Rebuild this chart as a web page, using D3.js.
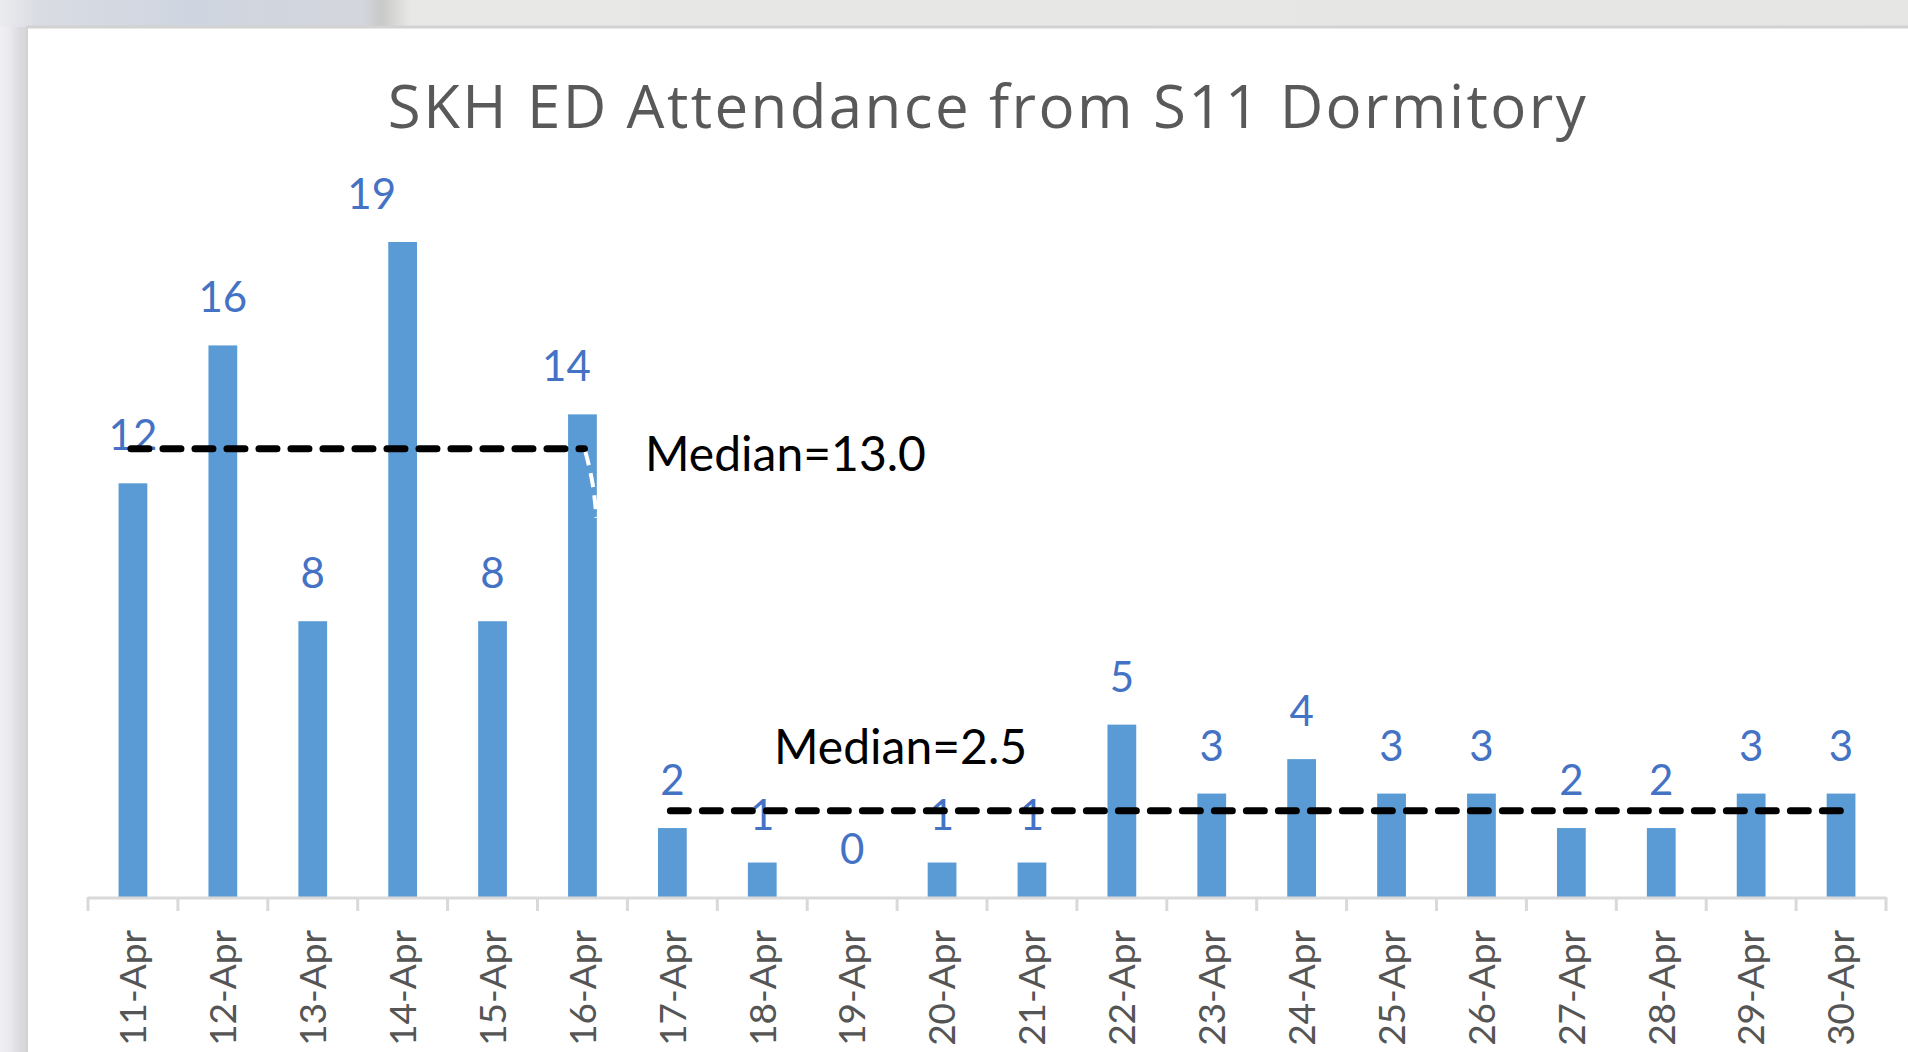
<!DOCTYPE html>
<html>
<head>
<meta charset="utf-8">
<script src="https://cdn.jsdelivr.net/npm/d3@7"></script>
<style>
  html, body { margin: 0; padding: 0; background: #e7e7e7; }
  svg { display: block; font-family: Lato, "Open Sans", sans-serif; font-variant-ligatures: none; }
</style>
</head>
<body>
<svg id="chart"></svg>
<script>
// chart data
const dates = ["11-Apr", "12-Apr", "13-Apr", "14-Apr", "15-Apr", "16-Apr", "17-Apr", "18-Apr", "19-Apr", "20-Apr",
               "21-Apr", "22-Apr", "23-Apr", "24-Apr", "25-Apr", "26-Apr", "27-Apr", "28-Apr", "29-Apr", "30-Apr"];
const attendance = [12, 16, 8, 19, 8, 14, 2, 1, 0, 1, 1, 5, 3, 4, 3, 3, 2, 2, 3, 3];
const medianValues = [13.0, 2.5];
const medianFrom = ["11-Apr", "17-Apr"];
const medianTo = ["16-Apr", "30-Apr"];
const medianLabels = ["Median=13.0", "Median=2.5"];
const chartTitle = "SKH ED Attendance from S11 Dormitory";

/**
 * Draw the whole picture
 */
function plotChart() {
    const width = 1908, height = 1052;
    const plot = { left: 88, right: 1886, base: 897 };

    const svg = d3.select("#chart")
        .attr("width", width)
        .attr("height", height);

    // window chrome behind the chart panel
    const defs = svg.append("defs");
    const topGrad = defs.append("linearGradient").attr("id", "topband");
    [[0, "#ececef"], [0.02, "#d9dce3"], [0.1, "#cfd5e0"], [0.19, "#d3d6dc"], [0.2, "#c9c9c9"], [0.215, "#e8e8e6"], [1, "#e6e6e4"]]
        .forEach(s => topGrad.append("stop").attr("offset", s[0]).attr("stop-color", s[1]));
    const leftGrad = defs.append("linearGradient").attr("id", "leftband");
    [[0, "#f0f0f3"], [0.4, "#e9e9ed"], [0.7, "#dcdce0"], [1, "#d6d6d8"]]
        .forEach(s => leftGrad.append("stop").attr("offset", s[0]).attr("stop-color", s[1]));

    svg.append("rect").attr("width", width).attr("height", height).attr("fill", "#e7e7e7");
    svg.append("rect").attr("width", width).attr("height", 27).attr("fill", "url(#topband)");
    svg.append("rect").attr("y", 27).attr("width", 27).attr("height", height - 27).attr("fill", "url(#leftband)");
    svg.append("rect").attr("x", 27).attr("y", 27).attr("width", width - 27).attr("height", height - 27).attr("fill", "#ffffff");
    svg.append("line").attr("x1", 26).attr("x2", width).attr("y1", 27).attr("y2", 27)
        .attr("stroke", "#d2d2d2").attr("stroke-width", 3);
    svg.append("line").attr("x1", 27).attr("x2", 27).attr("y1", 27).attr("y2", height)
        .attr("stroke", "#d2d2d2").attr("stroke-width", 2);

    // scales
    const x = d3.scaleBand()
        .domain(dates)
        .range([plot.left, plot.right])
        .paddingInner(0.68)
        .paddingOuter(0.34);
    const step = x.step();

    const y = d3.scaleLinear()
        .domain([0, 19])
        .range([plot.base, 242]);

    // title
    svg.append("text")
        .attr("x", (plot.left + plot.right) / 2 + 1)
        .attr("y", 128)
        .attr("fill", "#595959")
        .style("text-anchor", "middle")
        .style("font-family", "'Open Sans', Lato, sans-serif")
        .style("font-size", "60px")
        .style("letter-spacing", "2.4px")
        .text(chartTitle);

    // bars
    svg.selectAll(".bar")
        .data(attendance)
        .enter()
        .append("rect")
        .attr("class", "bar")
        .attr("x", (_, i) => x(dates[i]))
        .attr("width", x.bandwidth())
        .attr("y", d => y(d))
        .attr("height", d => y(0) - y(d))
        .attr("fill", "#5b9bd5");

    // data labels (two of them were dragged a little to the left in the original)
    const labelNudge = { "14-Apr": -31, "16-Apr": -16 };
    svg.selectAll(".value")
        .data(attendance)
        .enter()
        .append("text")
        .attr("class", "value")
        .attr("x", (_, i) => x(dates[i]) + x.bandwidth() / 2 + (labelNudge[dates[i]] || 0))
        .attr("y", d => y(d) - 33)
        .attr("fill", "#4472c4")
        .style("text-anchor", "middle")
        .style("font-size", "42px")
        .text(d => d);

    // x axis: labels at band centres, tick marks on band edges
    const xAxis = d3.axisBottom(x).tickSize(0).tickPadding(0);
    const gx = svg.append("g")
        .attr("transform", `translate(0, ${plot.base})`)
        .call(xAxis);
    gx.select(".domain").remove();
    gx.selectAll(".tick text")
        .attr("transform", "rotate(-90)")
        .attr("x", -33)
        .attr("y", 0)
        .attr("dy", "0.36em")
        .attr("fill", "#555555")
        .style("text-anchor", "end")
        .style("font-size", "37px")
        .style("font-family", "Lato, 'Open Sans', sans-serif");

    svg.append("line")
        .attr("x1", plot.left).attr("x2", plot.right)
        .attr("y1", plot.base + 1).attr("y2", plot.base + 1)
        .attr("stroke", "#d9d9d9").attr("stroke-width", 3);

    const edges = dates.map(d => x(d) - (step - x.bandwidth()) / 2).concat([plot.right]);
    svg.selectAll(".edge")
        .data(edges)
        .enter()
        .append("line")
        .attr("class", "edge")
        .attr("x1", d => d).attr("x2", d => d)
        .attr("y1", plot.base).attr("y2", plot.base + 14)
        .attr("stroke", "#d9d9d9").attr("stroke-width", 3);

    // median lines
    const cx = d => x(d) + x.bandwidth() / 2;
    svg.selectAll(".median")
        .data(medianValues)
        .enter()
        .append("line")
        .attr("class", "median")
        .attr("x1", (_, i) => cx(medianFrom[i]) - 2)
        .attr("x2", (_, i) => cx(medianTo[i]) + 2)
        .attr("y1", d => y(d))
        .attr("y2", d => y(d))
        .attr("stroke", "#000000")
        .attr("stroke-width", 7)
        .attr("stroke-linecap", "round")
        .attr("stroke-dasharray", "18,14");

    // little white dashed connector left over on the 16-Apr bar
    svg.append("path")
        .attr("d", d3.line().curve(d3.curveBasis)([
            [cx("16-Apr") + 3, y(13) + 3],
            [cx("16-Apr") + 11, y(12)],
            [cx("16-Apr") + 14, y(11)]]))
        .attr("fill", "none")
        .attr("stroke", "#ffffff")
        .attr("stroke-width", 4)
        .attr("stroke-dasharray", "14,8");

    // median labels
    const labelPos = [[645, 471], [774, 764]];
    svg.selectAll(".mlabel")
        .data(medianLabels)
        .enter()
        .append("text")
        .attr("class", "mlabel")
        .attr("x", (_, i) => labelPos[i][0])
        .attr("y", (_, i) => labelPos[i][1])
        .attr("fill", "#000000")
        .style("font-size", "48px")
        .text(d => d);
}

plotChart();
</script>
</body>
</html>
